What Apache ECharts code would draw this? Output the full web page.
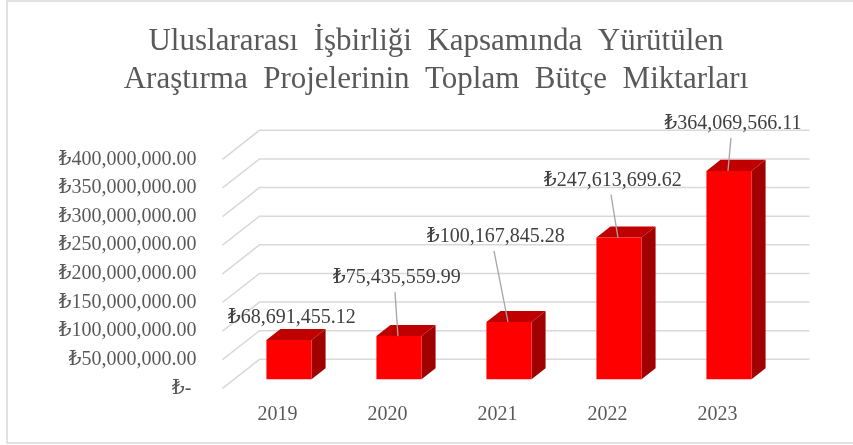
<!DOCTYPE html>
<html>
<head>
<meta charset="utf-8">
<script src="https://cdn.jsdelivr.net/npm/echarts@6/dist/echarts.min.js"></script>
<style>
  html, body { margin: 0; padding: 0; background: #fff; }
  #chart { width: 853px; height: 445px; }
</style>
</head>
<body>
<div id="chart"></div>
<script>
const years = ['2019', '2020', '2021', '2022', '2023'];
const budgets = [68691455.12, 75435559.99, 100167845.28, 247613699.62, 364069566.11];
const yTicks = [0, 50000000, 100000000, 150000000, 200000000, 250000000, 300000000, 350000000, 400000000];
const titleLines = ['Uluslararası İşbirliği Kapsamında Yürütülen', 'Araştırma Projelerinin Toplam Bütçe Miktarları'];

// where each value label sits, relative to the top-front centre of its bar
const labelNudge = [[3, -22], [-2, -58], [-13, -85], [-6, -57], [4, -47]];

const FONT = '"Liberation Serif", "DejaVu Serif", serif';
const WALL = { dx: 37, dy: -29 };      // floor depth, front edge -> back wall
const BAR_FRONT = 0.31;                // bar front face, as fraction of floor depth
const BAR_BACK = 0.69;

function lira(v, decimals) {
  if (v === 0) return '₺- ';
  return '₺' + v.toLocaleString('en-US', { minimumFractionDigits: decimals, maximumFractionDigits: decimals });
}

const chart = echarts.init(document.getElementById('chart'), null, { renderer: 'canvas' });

function renderGridLine(params, api) {
  const cs = params.coordSys;
  const y = api.coord([0, api.value(1)])[1];
  const x0 = cs.x, x1 = cs.x + cs.width;
  return {
    type: 'polyline',
    shape: { points: [[x0, y], [x0 + WALL.dx, y + WALL.dy], [x1 + WALL.dx, y + WALL.dy]] },
    style: { stroke: '#d9d9d9', lineWidth: 1.5, fill: null },
    silent: true
  };
}

function renderBar(params, api) {
  const i = api.value(0);
  const base = api.coord([i, 0]);
  const top = api.coord([i, api.value(1)]);
  const w = api.size([1, 0])[0] * 0.41;
  const fx = base[0] + WALL.dx * BAR_FRONT - w / 2;
  const fy = WALL.dy * BAR_FRONT;
  const ddx = WALL.dx * (BAR_BACK - BAR_FRONT);
  const ddy = WALL.dy * (BAR_BACK - BAR_FRONT);
  const yb = base[1] + fy, yt = top[1] + fy;
  const nudge = labelNudge[params.dataIndex];
  const cx = fx + w / 2;
  const lx = cx + nudge[0], ly = yt + nudge[1];
  const children = [
    { type: 'polygon', shape: { points: [[fx + w, yb], [fx + w + ddx, yb + ddy], [fx + w + ddx, yt + ddy], [fx + w, yt]] },
      style: { fill: '#a00000' } },
    { type: 'polygon', shape: { points: [[fx, yt], [fx + ddx, yt + ddy], [fx + w + ddx, yt + ddy], [fx + w, yt]] },
      style: { fill: '#c00000' } },
    { type: 'rect', shape: { x: fx, y: yt, width: w, height: yb - yt },
      style: { fill: '#ff0000' } },
    { type: 'text', x: lx, y: ly,
      style: { text: lira(api.value(1), 2), font: '20px ' + FONT, fill: '#404040', align: 'center', verticalAlign: 'middle' } }
  ];
  if (Math.abs(nudge[1]) > 30) {
    children.push({ type: 'line', shape: { x1: lx - 2, y1: ly + 14, x2: cx - 1, y2: yt },
      style: { stroke: '#a6a6a6', lineWidth: 1.3 } });
  }
  return { type: 'group', children };
}

chart.setOption({
  animation: false,
  backgroundColor: '#fff',
  title: {
    // en spaces between words: the original title is set loosely
    text: titleLines.map((s) => s.split(' ').join('\u2002')).join('\n'),
    left: 436,
    top: 23,
    textAlign: 'center',
    padding: 0,
    textStyle: { fontFamily: FONT, fontSize: 31, fontWeight: 'normal', color: '#595959', lineHeight: 38 }
  },
  graphic: [{
    type: 'rect', shape: { x: 7, y: 1, width: 860, height: 442 },
    style: { fill: null, stroke: '#d9d9d9', lineWidth: 1.5 }, silent: true, z: -1
  }],
  grid: { left: 222.5, right: 80.5, top: 159.3, bottom: 56.7 },
  xAxis: {
    type: 'category',
    data: years,
    axisLine: { show: false },
    axisTick: { show: false },
    axisLabel: { margin: 16, fontFamily: FONT, fontSize: 20, color: '#595959' }
  },
  yAxis: {
    type: 'value',
    min: 0,
    max: 400000000,
    interval: 50000000,
    splitLine: { show: false },
    axisLine: { show: false },
    axisTick: { show: false },
    axisLabel: { margin: 26, fontFamily: FONT, fontSize: 20, color: '#595959', formatter: (v) => lira(v, 2) }
  },
  series: [
    {
      type: 'custom',
      renderItem: renderGridLine,
      data: yTicks.map((v) => [0, v]),
      encode: { x: 0, y: 1 },
      z: 1,
      silent: true
    },
    {
      type: 'custom',
      renderItem: renderBar,
      data: budgets.map((v, i) => [i, v]),
      encode: { x: 0, y: 1 },
      z: 2
    }
  ]
});
</script>
</body>
</html>
